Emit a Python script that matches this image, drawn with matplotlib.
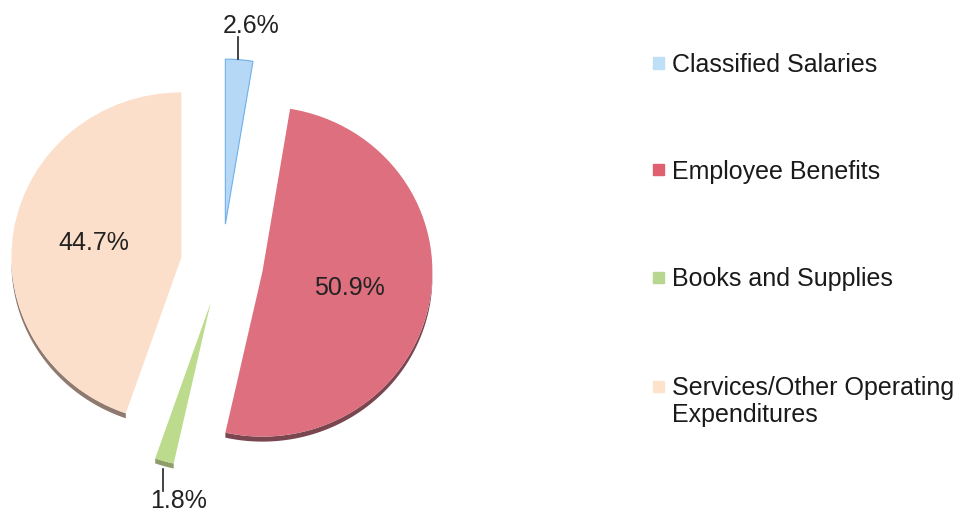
import numpy as np
import matplotlib.pyplot as plt
from matplotlib.patches import Polygon

plt.rcParams['font.family'] = ['Liberation Sans', 'DejaVu Sans']

categories = ['Classified Salaries', 'Employee Benefits', 'Books and Supplies',
              'Services/Other Operating\nExpenditures']
shares = [2.6, 50.9, 1.8, 44.7]

face_colors = ['#b4d8f6', '#dd6f7e', '#bcdb8d', '#fcdfca']
side_colors = ['#8aaed0', '#7a4650', '#8e9e6a', '#8f7a70']
key_colors = ['#bde0f7', '#e0606f', '#b7d690', '#fde2cc']

W, H = 962, 516
SX = 1.03          # disc is a little wider than tall
fig = plt.figure(figsize=(W / 100, H / 100), dpi=100)
ax = fig.add_axes([0, 0, 1, 1])

center = (222 / SX, H - 264)
radius = 165
depth = 5
explode = [40] * len(shares)

wedges, _ = ax.pie(shares, colors=face_colors, startangle=90, counterclock=False,
                   explode=explode, radius=radius, center=center, frame=True,
                   wedgeprops=dict(linewidth=0, zorder=2))
wedges[0].set_edgecolor('#6fb0ea')
wedges[0].set_linewidth(0.8)

ax.set_xlim(0, W / SX)
ax.set_ylim(0, H)
ax.set_aspect('auto')
ax.axis('off')

# side band under the lower part of each wedge's rim
for w, col in zip(wedges, side_colors):
    cx, cy = w.center
    t = np.linspace(w.theta1, w.theta2, 200)
    t = t[np.sin(np.deg2rad(t)) < 0]
    if len(t) < 2:
        continue
    xs = cx + radius * np.cos(np.deg2rad(t))
    ys = cy + radius * np.sin(np.deg2rad(t))
    pts = np.vstack([np.column_stack([xs, ys]),
                     np.column_stack([xs[::-1], ys[::-1] - depth])])
    ax.add_patch(Polygon(pts, closed=True, facecolor=col, edgecolor='none', zorder=1))

for w, val in zip(wedges, shares):
    mid = np.deg2rad((w.theta1 + w.theta2) / 2)
    cx, cy = w.center
    ux, uy = np.cos(mid), np.sin(mid)
    txt = f'{val:.1f}%'
    if val > 10:
        ax.text(cx + 0.52 * radius * ux, cy + 0.52 * radius * uy, txt,
                ha='center', va='center', fontsize=18, color='#222222')
    else:
        ex, ey = cx + radius * ux, cy + radius * uy
        if uy > 0:
            ax.plot([ex - 1.5, ex - 1.5], [ey + 1, ey + 23], color='#222222', lw=1.2)
            ax.text(ex + 12, ey + 34, txt, ha='center', va='center',
                    fontsize=18, color='#222222')
        else:
            ax.plot([ex - 1.5, ex - 1.5], [ey - 8, ey - 30], color='#222222', lw=1.2)
            ax.text(ex + 14, ey - 40, txt, ha='center', va='center',
                    fontsize=18, color='#222222')

# legend column on the right
key_rows = [63, 170, 277, 386]
for name, col, y in zip(categories, key_colors, key_rows):
    fig.patches.append(plt.Rectangle((653 / W, 1 - (y + 5.5) / H), 11 / W, 11 / H,
                                     transform=fig.transFigure, color=col))
    fig.text(672 / W, 1 - (y - 10) / H, name, ha='left', va='top',
             fontsize=18, color='#1a1a1a', linespacing=1.15)

fig.savefig('out.png', dpi=100)
